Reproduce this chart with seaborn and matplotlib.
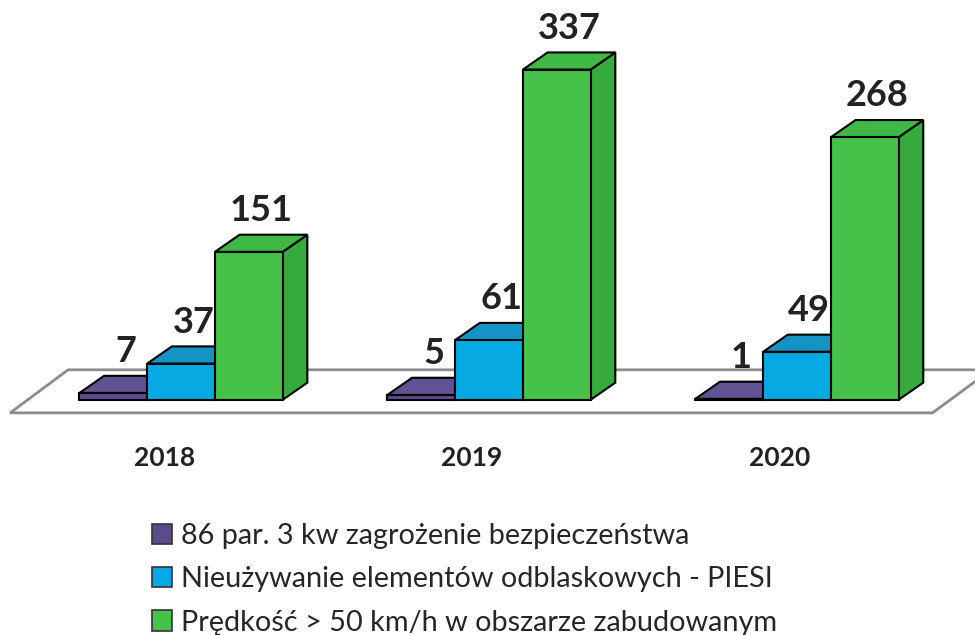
import matplotlib
matplotlib.use("Agg")
import matplotlib.pyplot as plt
from matplotlib.patches import Polygon, Patch
import pandas as pd
import seaborn as sns

years = ["2018", "2019", "2020"]
series = [
    "86 par. 3 kw zagrożenie bezpieczeństwa",
    "Nieużywanie elementów odblaskowych - PIESI",
    "Prędkość > 50 km/h w obszarze zabudowanym",
]
zagrozenie = [7, 5, 1]
odblaski = [37, 61, 49]
predkosc = [151, 337, 268]

front_colors = ["#5a4b8a", "#06a9e1", "#46c24a"]
top_colors = ["#615294", "#1494c4", "#40b845"]
side_colors = ["#4a3d74", "#0a86b2", "#36aa3c"]

df = pd.DataFrame({
    "rok": years * 3,
    "kategoria": [s for s in series for _ in years],
    "liczba": zagrozenie + odblaski + predkosc,
})

sns.set_theme(style="white")
plt.rcParams["font.family"] = ["Lato", "DejaVu Sans"]

fig = plt.figure(figsize=(9.75, 6.35), dpi=100)
ax = fig.add_axes([0, 0, 1, 1])

# floor plane under the bars
floor = Polygon([(-0.555, -13.3), (-0.367, 30.6), (2.63, 30.6), (2.44, -13.3)],
                closed=True, fc="white", ec="#8c8c8c", lw=2, zorder=1)
ax.add_patch(floor)

sns.barplot(data=df, x="rok", y="liczba", hue="kategoria", order=years,
            hue_order=series, palette=front_colors, saturation=1, width=0.66,
            edgecolor="black", linewidth=1.5, legend=False, ax=ax)

# fake 3D: top and side faces behind each front
DX, DY = 0.08, 17.5
bars = []
for k, cont in enumerate(ax.containers):
    for p in cont.patches:
        bars.append((p, k))
bars.sort(key=lambda b: b[0].get_x())

for rank, (p, k) in enumerate(bars):
    x0, w, h = p.get_x(), p.get_width(), p.get_height()
    x1 = x0 + w
    top = Polygon([(x0, h), (x0 + DX, h + DY), (x1 + DX, h + DY), (x1, h)],
                  fc=top_colors[k], ec="black", lw=1.5, zorder=10 + 2 * rank)
    side = Polygon([(x1, 0), (x1 + DX, DY), (x1 + DX, h + DY), (x1, h)],
                   fc=side_colors[k], ec="black", lw=1.5, zorder=10 + 2 * rank)
    ax.add_patch(side)
    ax.add_patch(top)
    p.set_zorder(11 + 2 * rank)
    ax.text(x0 + w / 2 + DX * 0.5, h + DY + 8, f"{h:.0f}", ha="center",
            va="bottom", fontsize=26, fontweight="bold", color="#222222", zorder=50)

for i, y in enumerate(years):
    ax.text(i - 0.055, -59, y, ha="center", va="center", fontsize=19,
            fontweight="bold", color="#222222")

ax.set_xlim(-0.588, 2.578)
ax.set_ylim(-240, 408)
ax.axis("off")

handles = [Patch(fc=c, ec="#333333", lw=1.2) for c in front_colors]
fig.legend(handles, series, loc="upper left", bbox_to_anchor=(152 / 975, 1 - 523 / 635),
           frameon=False, fontsize=20.8, handlelength=0.7, handleheight=0.7,
           handletextpad=0.3, labelspacing=0.6, borderpad=0, borderaxespad=0)

fig.savefig("out.png", dpi=100)
